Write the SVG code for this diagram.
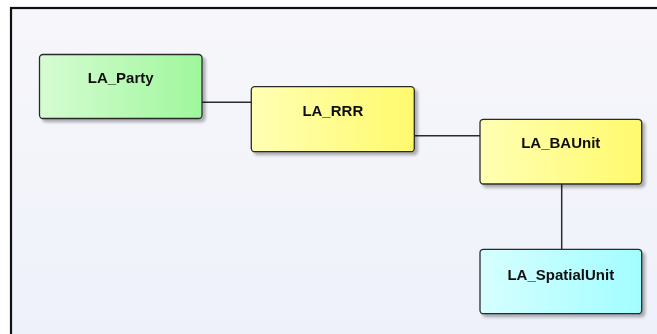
<svg xmlns="http://www.w3.org/2000/svg" width="657" height="334" viewBox="0 0 657 334">
<defs>
<linearGradient id="bg" x1="0" y1="0" x2="0" y2="1"><stop offset="0" stop-color="#f7f7fa"/><stop offset="1" stop-color="#eef1fa"/></linearGradient>
<linearGradient id="gGreen" x1="0" y1="0" x2="1" y2="0"><stop offset="0" stop-color="#d6fcd2"/><stop offset="1" stop-color="#9ff79c"/></linearGradient>
<linearGradient id="gYellow" x1="0" y1="0" x2="1" y2="0"><stop offset="0" stop-color="#ffffb4"/><stop offset="1" stop-color="#fffa6c"/></linearGradient>
<linearGradient id="gCyan" x1="0" y1="0" x2="1" y2="0"><stop offset="0" stop-color="#d6ffff"/><stop offset="1" stop-color="#a2fdff"/></linearGradient>
<filter id="sh" x="-10%" y="-10%" width="130%" height="140%"><feGaussianBlur in="SourceAlpha" stdDeviation="1.5"/><feOffset dx="3" dy="3"/><feComponentTransfer><feFuncA type="linear" slope="0.3"/></feComponentTransfer><feMerge><feMergeNode/><feMergeNode in="SourceGraphic"/></feMerge></filter>
</defs>
<style>
.box{stroke:#2b2b2b;stroke-width:1.3}
.lbl{font-family:"Liberation Sans",Arial,sans-serif;font-weight:bold;font-size:15px;fill:#111;text-anchor:middle}
.con{stroke:#2b2b2b;stroke-width:1.5;fill:none}
</style>
<rect x="0" y="0" width="657" height="334" fill="#ffffff"/>
<rect x="11" y="8" width="660" height="340" fill="url(#bg)" stroke="#111" stroke-width="2.2"/>
<g id="connectors">
<line class="con" x1="202" y1="102.3" x2="251.3" y2="102.3"/>
<line class="con" x1="414.3" y1="135.7" x2="480" y2="135.7"/>
<line class="con" x1="561.7" y1="184" x2="561.7" y2="249.3"/>
</g>
<g id="LA_Party" filter="url(#sh)">
<rect class="box" x="39.5" y="54.5" width="162.5" height="64" rx="3.5" fill="url(#gGreen)"/>
<text class="lbl" x="120.7" y="82.5">LA_Party</text>
</g>
<g id="LA_RRR" filter="url(#sh)">
<rect class="box" x="251.3" y="86.7" width="163" height="65" rx="3.5" fill="url(#gYellow)"/>
<text class="lbl" x="332.8" y="115.7">LA_RRR</text>
</g>
<g id="LA_BAUnit" filter="url(#sh)">
<rect class="box" x="480" y="119.3" width="161.7" height="64.7" rx="3.5" fill="url(#gYellow)"/>
<text class="lbl" x="560.8" y="148.3">LA_BAUnit</text>
</g>
<g id="LA_SpatialUnit" filter="url(#sh)">
<rect class="box" x="480" y="249.3" width="161.7" height="64.4" rx="3.5" fill="url(#gCyan)"/>
<text class="lbl" x="560.8" y="279.8">LA_SpatialUnit</text>
</g>
</svg>
